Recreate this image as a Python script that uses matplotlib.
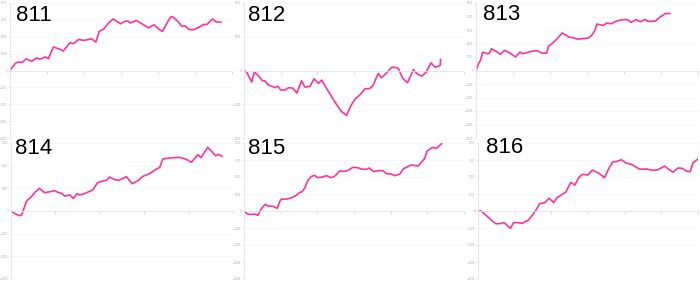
import matplotlib
matplotlib.use("Agg")
import matplotlib.pyplot as plt

# panel names
names = ["811", "812", "813", "814", "815", "816"]

# series (x in periods, y in value units)
x_811 = [0, 1.4, 2.0, 3.4, 4.3, 5.9, 7.2, 8.1, 9.5, 10.4, 11.7, 13.1, 14.4, 16.2, 17.1, 18.6,
         19.8, 20.9, 22.1, 23.2, 24.1, 25.4, 26.6, 27.9, 28.8, 29.9, 31.1, 32.0, 32.4, 34.2,
         36.0, 37.4, 38.9, 40.1, 41.2, 42.3, 43.5, 44.1, 45.3, 46.4, 47.3, 48.4, 49.5, 51.1,
         52.3, 53.2, 54.7, 55.7, 57.0]
y_811 = [0, 412, 490, 490, 686, 549, 745, 667, 804, 706, 1392, 1294, 1157, 1647, 1588, 1843,
         1784, 1824, 1882, 1686, 2314, 2471, 2804, 3059, 2922, 2765, 2922, 2922, 2824, 2961,
         2725, 2529, 2706, 2471, 2314, 2765, 3196, 3157, 2922, 2627, 2647, 2431, 2412, 2569,
         2725, 2725, 3059, 2882, 2863]

x_812 = [0, 0.7, 2.1, 2.8, 3.9, 5.0, 5.7, 6.6, 7.5, 8.5, 9.2, 10.0, 11.2, 12.1, 13.3, 14.4,
         15.7, 16.6, 18.0, 19.1, 20.3, 21.2, 22.5, 23.9, 25.3, 26.6, 28.0, 29.1, 30.3, 31.6,
         33.0, 34.2, 35.1, 36.6, 37.5, 38.9, 40.3, 41.4, 42.1, 43.3, 44.6, 46.2, 47.1, 48.5,
         49.6, 51.0, 52.1, 53.5, 53.6]
y_812 = [0, -39, -343, -49, -147, -304, -304, -431, -461, -510, -461, -578, -578, -510, -520,
         -667, -304, -490, -471, -245, -382, -284, -529, -775, -1020, -1216, -1333, -1049, -843,
         -725, -539, -539, -461, -88, -216, -69, 98, 88, 59, -235, -363, 29, -88, -167, -59,
         225, 98, 147, 324]

x_813 = [0, 0.7, 1.2, 1.8, 2.4, 3.0, 3.6, 4.2, 5.3, 6.6, 7.7, 8.9, 10.7, 11.9, 12.5, 13.9,
         15.3, 16.6, 17.7, 19.1, 19.6, 20.7, 21.8, 23.3, 24.4, 25.1, 26.2, 27.5, 28.9, 30.3,
         31.2, 32.1, 32.7, 33.9, 34.5, 35.3, 36.6, 37.5, 38.9, 40.5, 41.2, 41.9, 43.3, 44.4,
         45.7, 46.6, 48.5, 49.6, 51.2, 52.4]
y_813 = [0, 512, 756, 1341, 1317, 1244, 1268, 1610, 1439, 1195, 1488, 1341, 1000, 1366, 1244,
         1341, 1439, 1463, 1293, 1293, 1805, 2024, 2317, 2780, 2610, 2463, 2439, 2317, 2366,
         2390, 2585, 2951, 3439, 3366, 3341, 3512, 3463, 3610, 3732, 3780, 3732, 3561, 3780,
         3610, 3780, 3634, 3659, 3927, 4220, 4220]

x_814 = [0, 0.9, 1.9, 2.4, 3.5, 4.6, 5.4, 6.4, 7.6, 8.8, 9.7, 10.6, 11.4, 12.1, 13.3, 14.0,
         14.9, 15.5, 16.3, 17.2, 18.4, 19.5, 20.4, 21.5, 22.2, 23.4, 24.3, 26.0, 27.3, 28.6,
         29.7, 31.2, 32.4, 33.5, 34.2, 35.7, 38.0, 39.5, 40.6, 42.1, 42.8, 44.3, 46.1, 46.8,
         47.5]
y_814 = [0, -118, -206, -176, 441, 632, 824, 1000, 809, 853, 897, 824, 779, 662, 706, 559,
         765, 706, 750, 824, 926, 1250, 1309, 1353, 1500, 1382, 1353, 1515, 1206, 1338, 1529,
         1647, 1809, 1926, 2294, 2338, 2368, 2279, 2147, 2485, 2353, 2809, 2441, 2500, 2412]

x_815 = [0, 0.8, 1.5, 2.5, 2.9, 3.8, 4.5, 5.2, 5.8, 6.5, 7.9, 9.1, 9.7, 10.2, 11.1, 12.5,
         13.4, 14.1, 15.2, 15.9, 16.5, 17.5, 18.4, 19.3, 20.0, 21.5, 22.5, 23.8, 24.7, 26.1,
         27.5, 28.4, 29.7, 30.9, 32.0, 33.4, 34.1, 35.4, 36.5, 37.9, 38.8, 40.2, 41.1, 42.5,
         43.5, 44.3, 45.6, 47.5, 49.3, 49.9, 51.4, 52.5, 53.9]
y_815 = [0, -157, -196, -196, -176, -255, 59, 255, 392, 294, 275, 157, 549, 706, 686, 745,
         824, 902, 1098, 1137, 1333, 1824, 2039, 2098, 1961, 2000, 2078, 1961, 2039, 2353,
         2333, 2392, 2569, 2549, 2471, 2451, 2529, 2314, 2373, 2373, 2196, 2176, 2078, 2176,
         2490, 2569, 2706, 2647, 3098, 3529, 3745, 3686, 3961]

x_816 = [0, 0.9, 2.3, 3.6, 4.8, 5.9, 7.1, 8.0, 8.8, 9.7, 10.9, 12.1, 12.9, 13.8, 15.0, 16.1,
         16.8, 18.2, 19.4, 20.7, 21.6, 22.7, 23.9, 25.3, 26.4, 27.5, 28.5, 30.0, 31.2, 33.0,
         34.5, 35.7, 36.8, 37.7, 39.1, 40.3, 42.1, 44.1, 45.9, 47.7, 49.1, 50.9, 52.0, 53.2,
         54.5, 55.7, 56.8, 57.9, 58.6, 60.0]
y_816 = [0, 0, -275, -529, -745, -745, -686, -863, -1020, -686, -686, -725, -627, -529, -196,
         157, 431, 490, 745, 490, 804, 941, 1098, 1686, 1529, 1980, 2157, 2118, 2412, 2216,
         1961, 2510, 2902, 2902, 3020, 2824, 2725, 2451, 2471, 2392, 2431, 2647, 2451, 2275,
         2529, 2510, 2353, 2314, 2824, 3059]

series = [(x_811, y_811), (x_812, y_812), (x_813, y_813),
          (x_814, y_814), (x_815, y_815), (x_816, y_816)]
y_half = [4000, 2000, 5000, 3000, 4000, 4000]
x_max = [60, 60, 60, 50, 60, 60]

W, H = 700, 281
fig = plt.figure(figsize=(W / 100, H / 100), dpi=100)

# axes boxes in pixels: left, top, width, height
boxes = [(10, 3, 222, 135), (244, 3, 220, 135), (476, 3, 222, 135),
         (11, 143, 222, 136), (244, 143, 220, 136), (478, 143, 220, 136)]
label_pos = [(16, 5), (248, 5), (483, 4), (15, 138), (248, 138), (486, 137)]

pink = "#ff3399"
for i, name in enumerate(names):
    l, t, w, h = boxes[i]
    ax = fig.add_axes([l / W, (H - t - h) / H, w / W, h / H])
    xs, ys = series[i]
    ax.plot(xs, ys, color=pink, lw=1.2)
    ax.set_xlim(0, x_max[i])
    ax.set_ylim(-y_half[i], y_half[i])
    ax.set_yticks(range(-y_half[i], y_half[i] + 1, 1000))
    ax.set_xticks(range(10, x_max[i] + 1, 10))
    ax.set_xticklabels([])
    ax.grid(axis="y", color="#f6f6f6", lw=0.6)
    for s in ["top", "right"]:
        ax.spines[s].set_visible(False)
    ax.spines["bottom"].set_position(("data", 0))
    ax.spines["bottom"].set_color("#e4e4e4")
    ax.spines["left"].set_color("#e4e4e4")
    ax.spines["bottom"].set_linewidth(0.6)
    ax.spines["left"].set_linewidth(0.6)
    ax.tick_params(axis="y", labelsize=1.8, labelcolor="#aaaaaa", color="#dddddd",
                   length=1.5, width=0.5, pad=0.5)
    ax.tick_params(axis="x", color="#cccccc", length=2, width=0.5, direction="out")
    ax.patch.set_alpha(0)
    fig.text(label_pos[i][0] / W, 1 - label_pos[i][1] / H, name,
             fontsize=16, family="Liberation Sans", va="top", ha="left", color="black")

fig.savefig("out.png", dpi=100)
